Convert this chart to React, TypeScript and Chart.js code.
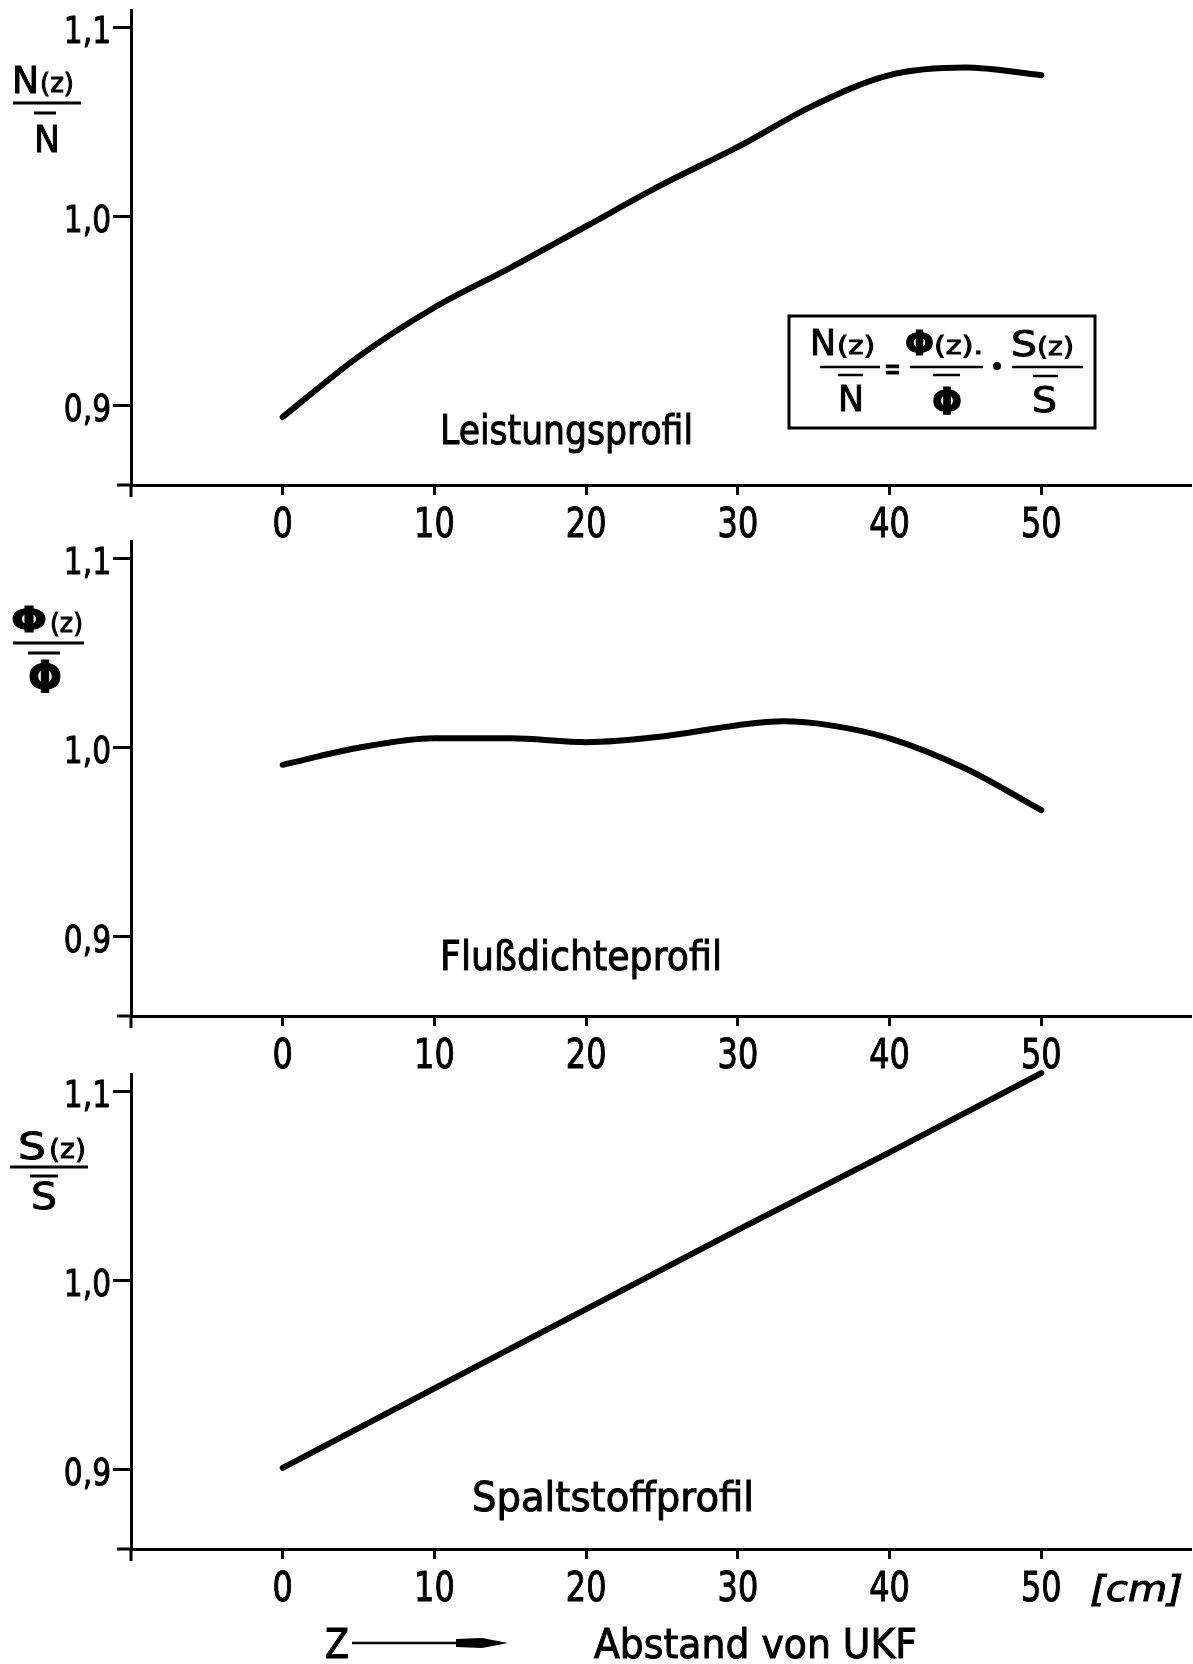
import React, { useEffect, useRef } from 'react';
import { Chart, registerables } from 'chart.js';

Chart.register(...registerables);

// ---------------- data ----------------
const LEISTUNG_Z = [0, 5, 10, 15, 20, 25, 30, 35, 40, 45, 50];
const LEISTUNG = [0.894, 0.926, 0.952, 0.973, 0.995, 1.017, 1.037, 1.059, 1.075, 1.079, 1.075];
const FLUSS_Z = [0, 5, 10, 15, 20, 25, 30, 33, 36, 40, 45, 50];
const FLUSS = [0.991, 1.0, 1.005, 1.005, 1.003, 1.006, 1.012, 1.014, 1.012, 1.005, 0.989, 0.967];
const SPALT_Z = [0, 10, 20, 30, 40, 50];
const SPALT = [0.901, 0.943, 0.985, 1.027, 1.068, 1.11];

const X_TICKS = [0, 10, 20, 30, 40, 50];
const X_TICK_LABELS = ['0', '10', '20', '30', '40', '50'];
const Y_TICKS = [0.9, 1.0, 1.1];
const Y_TICK_LABELS = ['0,9', '1,0', '1,1'];

const PROFILE_LABELS = ['Leistungsprofil', 'Flußdichteprofil', 'Spaltstoffprofil'];
const X_UNIT = '[cm]';
const X_VAR = 'Z';
const X_TITLE = 'Abstand von UKF';

// ---------------- layout ----------------
const W = 1193;
const X_MIN = -10;
const X_MAX = 59.8;
const Y_MIN = 0.858;
const Y_MAX = 1.1095;
const AREA_TOP = 10;
const AREA_BOTTOM = 485;
const PANELS = [
  { top: 0, h: 560 },
  { top: 531, h: 560 },
  { top: 1064, h: 600 },
];

const ANNO_FONT = "'DejaVu Sans', 'Liberation Sans', sans-serif";

function drawScaled(
  ctx: CanvasRenderingContext2D,
  text: string,
  x: number,
  baseline: number,
  size: number,
  sx: number,
  align: CanvasTextAlign,
  style = ''
) {
  ctx.save();
  ctx.font = `${style} ${size}px ${ANNO_FONT}`;
  ctx.textAlign = align;
  ctx.textBaseline = 'alphabetic';
  ctx.translate(x, baseline);
  ctx.scale(sx, 1);
  ctx.fillStyle = '#000';
  ctx.strokeStyle = '#000';
  ctx.lineWidth = 1;
  ctx.fillText(text, 0, 0);
  ctx.strokeText(text, 0, 0);
  ctx.restore();
}

function fitText(
  ctx: CanvasRenderingContext2D,
  text: string,
  x0: number,
  x1: number,
  baseline: number,
  size: number,
  style = ''
) {
  ctx.save();
  ctx.font = `${style} ${size}px ${ANNO_FONT}`;
  const w = ctx.measureText(text).width || 1;
  ctx.restore();
  drawScaled(ctx, text, x0, baseline, size, (x1 - x0) / w, 'left', style);
}

function hline(ctx: CanvasRenderingContext2D, x0: number, x1: number, y: number, lw = 3) {
  ctx.save();
  ctx.strokeStyle = '#000';
  ctx.lineWidth = lw;
  ctx.beginPath();
  ctx.moveTo(x0, y);
  ctx.lineTo(x1, y);
  ctx.stroke();
  ctx.restore();
}

function vline(ctx: CanvasRenderingContext2D, x: number, y0: number, y1: number, lw = 3) {
  ctx.save();
  ctx.strokeStyle = '#000';
  ctx.lineWidth = lw;
  ctx.beginPath();
  ctx.moveTo(x, y0);
  ctx.lineTo(x, y1);
  ctx.stroke();
  ctx.restore();
}

type Frac = {
  main: string; mx0: number; mx1: number; mb: number; ms: number; mst?: string;
  sub: string; sx0: number; sx1: number; sb: number; ss: number;
  bx0: number; bx1: number; by: number;
  ox0: number; ox1: number; oy: number;
  den: string; dx0: number; dx1: number; db: number; ds: number;
  lw?: number;
};

function drawFrac(ctx: CanvasRenderingContext2D, f: Frac) {
  fitText(ctx, f.main, f.mx0, f.mx1, f.mb, f.ms, f.mst ?? '');
  fitText(ctx, f.sub, f.sx0, f.sx1, f.sb, f.ss);
  hline(ctx, f.bx0, f.bx1, f.by, f.lw ?? 3);
  hline(ctx, f.ox0, f.ox1, f.oy, f.lw ?? 3);
  fitText(ctx, f.den, f.dx0, f.dx1, f.db, f.ds, f.mst ?? '');
}

const TITLES: Frac[] = [
  {
    main: 'N', mx0: 12, mx1: 39, mb: 93, ms: 38,
    sub: '(z)', sx0: 40, sx1: 74, sb: 92, ss: 27,
    bx0: 13, bx1: 81, by: 103,
    ox0: 34, ox1: 56, oy: 113,
    den: 'N', dx0: 34, dx1: 60, db: 152, ds: 38,
  },
  {
    main: 'Φ', mx0: 11, mx1: 47, mb: 101, ms: 36, mst: 'bold',
    sub: '(z)', sx0: 50, sx1: 83, sb: 101, ss: 26,
    bx0: 13, bx1: 84, by: 112,
    ox0: 28, ox1: 60, oy: 122,
    den: 'Φ', dx0: 28, dx1: 62, db: 162, ds: 44,
  },
  {
    main: 'S', mx0: 18, mx1: 46, mb: 95, ms: 38,
    sub: '(z)', sx0: 49, sx1: 86, sb: 94, ss: 27,
    bx0: 10, bx1: 88, by: 103,
    ox0: 30, ox1: 58, oy: 112,
    den: 'S', dx0: 31, dx1: 57, db: 145, ds: 38,
  },
];

const LABEL_POS = [
  { x0: 440, x1: 693, b: 444 },
  { x0: 440, x1: 722, b: 439 },
  { x0: 472, x1: 754, b: 447 },
];

function makePlugin(idx: number) {
  return {
    id: 'anno' + idx,
    afterDraw(chart: any) {
      const ctx: CanvasRenderingContext2D = chart.ctx;
      const a = chart.chartArea;
      const xs = chart.scales.x;
      const ys = chart.scales.y;
      ctx.save();
      // axis extensions (crossing)
      hline(ctx, 117, a.left, a.bottom, 3);
      vline(ctx, a.left, a.bottom, a.bottom + 12, 3);

      // tick labels, placed through the chart's scales
      X_TICKS.forEach((v, i) => {
        drawScaled(ctx, X_TICK_LABELS[i], xs.getPixelForValue(v), a.bottom + 52, 40, 0.8, 'center');
      });
      Y_TICKS.forEach((v, i) => {
        drawScaled(ctx, Y_TICK_LABELS[i], 111, ys.getPixelForValue(v) + 15, 38, 0.78, 'right');
      });

      drawFrac(ctx, TITLES[idx]);
      const lp = LABEL_POS[idx];
      fitText(ctx, PROFILE_LABELS[idx], lp.x0, lp.x1, lp.b, 40);

      if (idx === 0) {
        // formula box
        ctx.strokeStyle = '#000';
        ctx.lineWidth = 3;
        ctx.strokeRect(789, 316, 306, 112);
        drawFrac(ctx, {
          main: 'N', mx0: 810, mx1: 836, mb: 355, ms: 35,
          sub: '(z)', sx0: 837, sx1: 875, sb: 354, ss: 25,
          bx0: 820, bx1: 880, by: 367,
          ox0: 838, ox1: 863, oy: 375,
          den: 'N', dx0: 838, dx1: 864, db: 411, ds: 35, lw: 2.5,
        });
        fitText(ctx, '=', 884, 901, 380, 32);
        drawFrac(ctx, {
          main: 'Φ', mx0: 905, mx1: 934, mb: 355, ms: 33, mst: 'bold',
          sub: '(z).', sx0: 934, sx1: 983, sb: 354, ss: 25,
          bx0: 910, bx1: 983, by: 367,
          ox0: 933, ox1: 960, oy: 375,
          den: 'Φ', dx0: 932, dx1: 962, db: 414, ds: 38,
          lw: 2.5,
        });
        ctx.beginPath();
        ctx.fillStyle = '#000';
        ctx.arc(997, 366, 4, 0, Math.PI * 2);
        ctx.fill();
        drawFrac(ctx, {
          main: 'S', mx0: 1011, mx1: 1037, mb: 356, ms: 35,
          sub: '(z)', sx0: 1037, sx1: 1074, sb: 355, ss: 25,
          bx0: 1012, bx1: 1083, by: 367,
          ox0: 1033, ox1: 1058, oy: 376,
          den: 'S', dx0: 1032, dx1: 1057, db: 412, ds: 35, lw: 2.5,
        });
      }

      if (idx === 2) {
        fitText(ctx, X_UNIT, 1090, 1183, 537, 36, 'italic');
        fitText(ctx, X_VAR, 325, 349, 594, 40);
        hline(ctx, 352, 466, 579, 2.5);
        ctx.beginPath();
        ctx.fillStyle = '#000';
        ctx.moveTo(456, 575);
        ctx.lineTo(482, 574);
        ctx.lineTo(508, 579);
        ctx.lineTo(482, 584);
        ctx.lineTo(456, 583);
        ctx.closePath();
        ctx.fill();
        fitText(ctx, X_TITLE, 594, 917, 594, 40);
      }
      ctx.restore();
    },
  };
}

function makeConfig(idx: number): any {
  const xs = idx === 0 ? LEISTUNG_Z : idx === 1 ? FLUSS_Z : SPALT_Z;
  const ys = idx === 0 ? LEISTUNG : idx === 1 ? FLUSS : SPALT;
  const h = PANELS[idx].h;
  return {
    type: 'line',
    data: {
      datasets: [
        {
          data: xs.map((x, i) => ({ x, y: ys[i] })),
          borderColor: '#000',
          borderWidth: 6,
          pointRadius: 0,
          fill: false,
          tension: idx === 2 ? 0 : 0.4,
          cubicInterpolationMode: idx === 2 ? 'default' : 'monotone',
          borderCapStyle: 'round',
          borderJoinStyle: 'round',
          clip: false,
        },
      ],
    },
    options: {
      responsive: false,
      animation: false,
      devicePixelRatio: 1,
      layout: { autoPadding: false, padding: { left: 0, right: 3, top: AREA_TOP, bottom: 0 } },
      plugins: { legend: { display: false }, tooltip: { enabled: false }, title: { display: false } },
      scales: {
        x: {
          type: 'linear',
          min: X_MIN,
          max: X_MAX,
          afterBuildTicks: (s: any) => {
            s.ticks = X_TICKS.map((v) => ({ value: v }));
          },
          afterFit: (s: any) => {
            s.height = h - AREA_BOTTOM;
            s.paddingLeft = 0;
            s.paddingRight = 0;
          },
          border: { display: true, color: '#000', width: 3 },
          grid: {
            display: true,
            drawOnChartArea: false,
            drawTicks: true,
            tickLength: 10,
            tickWidth: 3,
            tickColor: '#000',
            color: '#000',
            lineWidth: 3,
          },
          ticks: { display: false, autoSkip: false },
        },
        y: {
          type: 'linear',
          min: Y_MIN,
          max: Y_MAX,
          afterBuildTicks: (s: any) => {
            s.ticks = Y_TICKS.map((v) => ({ value: v }));
          },
          afterFit: (s: any) => {
            s.width = 131;
            s.paddingTop = 0;
            s.paddingBottom = 0;
          },
          border: { display: true, color: '#000', width: 3 },
          grid: {
            display: true,
            drawOnChartArea: false,
            drawTicks: true,
            tickLength: 18,
            tickWidth: 3,
            tickColor: '#000',
            color: '#000',
            lineWidth: 3,
          },
          ticks: { display: false, autoSkip: false },
        },
      },
    },
    plugins: [makePlugin(idx)],
  };
}

export default function App() {
  const refs = useRef<(HTMLCanvasElement | null)[]>([]);

  useEffect(() => {
    const charts = PANELS.map((_, i) => new Chart(refs.current[i] as HTMLCanvasElement, makeConfig(i)));
    return () => charts.forEach((c) => c.destroy());
  }, []);

  return (
    <div style={{ position: 'absolute', left: 0, top: 0, width: W, height: 1664, background: '#fff' }}>
      {PANELS.map((p, i) => (
        <canvas
          key={i}
          ref={(el) => {
            refs.current[i] = el;
          }}
          width={W}
          height={p.h}
          style={{ position: 'absolute', left: 0, top: p.top, width: W, height: p.h }}
        />
      ))}
    </div>
  );
}
